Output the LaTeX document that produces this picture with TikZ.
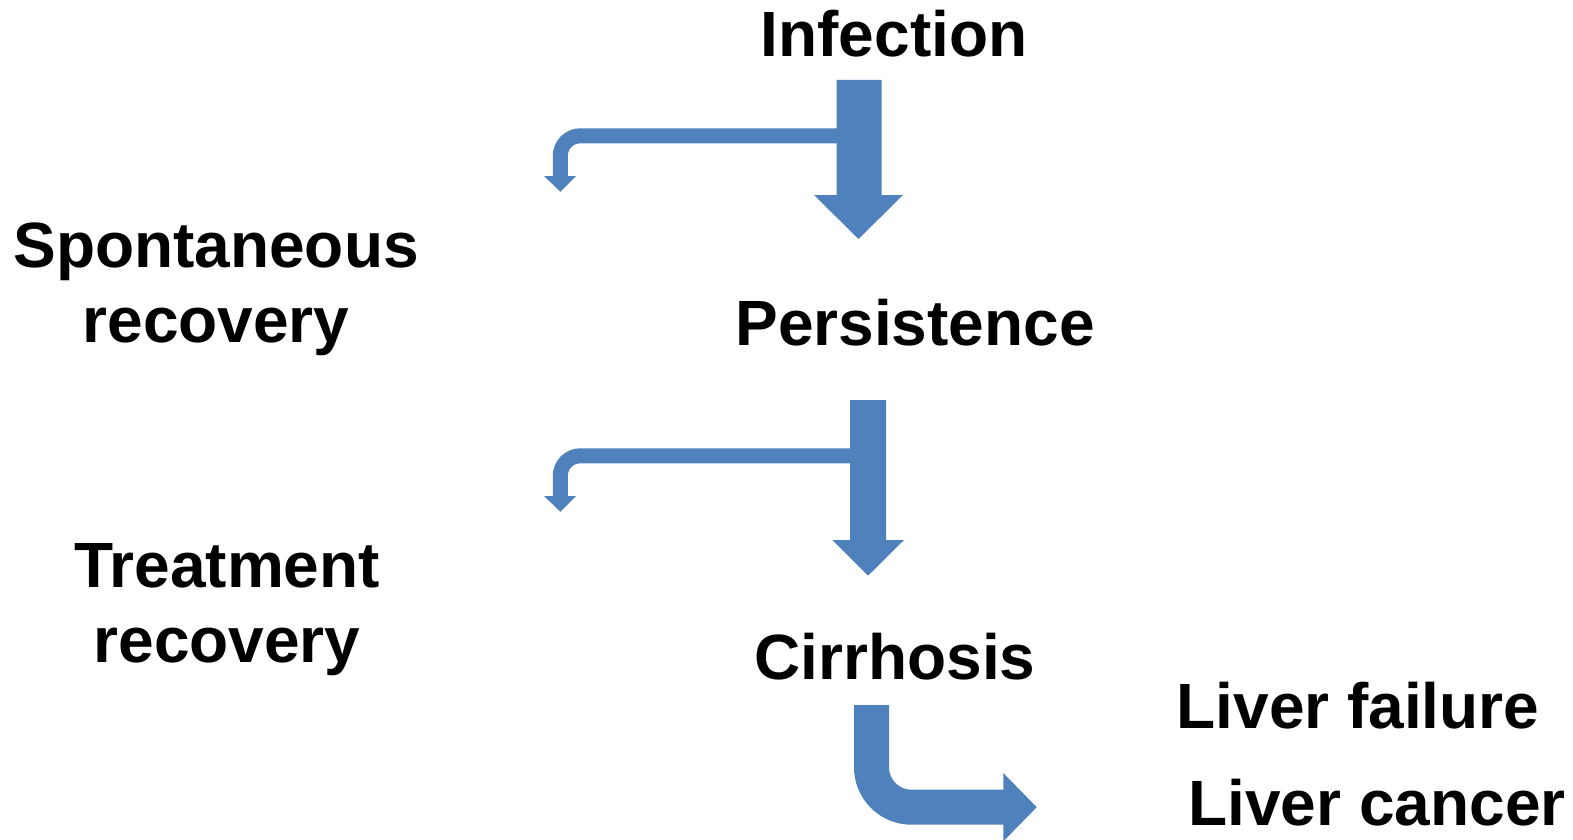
\documentclass[tikz,border=0pt]{standalone}
\usepackage{fontspec}
\setmainfont{Liberation Sans}
\definecolor{arrowblue}{RGB}{79,129,189}

\begin{document}
\begin{tikzpicture}[
      x=1pt, y=-1pt,
      every node/.style={inner sep=0pt,anchor=base,align=center,
        font=\fontsize{64}{75}\selectfont\bfseries},
      band/.style={draw=arrowblue,line width=#1},
      head/.style={fill=arrowblue,draw=none}
    ]
      \useasboundingbox (0,0) rectangle (1573,840);
      % stages
      \node (infection) at (894,57) {Infection};
      \node (persistence) at (915,345) {Persistence};
      \node (cirrhosis) at (895,679) {Cirrhosis};
      \node (spontaneous) at (216,342) {Spontaneous\\recovery};
      \node (treatment) at (227,662) {Treatment\\recovery};
      \node (failure) at (1358,728) {Liver failure};
      \node (cancer) at (1377,825) {Liver cancer};
      % infection -> persistence
      \fill[head] (836.7,80) -- (881.7,80) -- (881.7,195) -- (903,195) -- (858.5,239)
        -- (814,195) -- (836.7,195) -- cycle;
      \draw[band=15pt,rounded corners=20pt] (840,135.8) -- (560.3,135.8) -- (560.3,176.5);
      \fill[head] (544,176) -- (576,176) -- (560.3,191.7) -- cycle;
      % persistence -> cirrhosis
      \fill[head] (850,400) -- (886,400) -- (886,540) -- (904,540) -- (868,575.7)
        -- (832.3,540) -- (850,540) -- cycle;
      \draw[band=15pt,rounded corners=20pt] (853,455.8) -- (560.3,455.8) -- (560.3,496.5);
      \fill[head] (544,496) -- (576,496) -- (560.3,511.7) -- cycle;
      % cirrhosis -> liver failure / cancer
      \draw[band=35pt,rounded corners=40pt] (871.5,705) -- (871.5,807.2) -- (1004,807.2);
      \fill[head] (1003.3,773) -- (1036.7,807.2) -- (1003.3,841.4) -- cycle;
    \end{tikzpicture}
\end{document}
